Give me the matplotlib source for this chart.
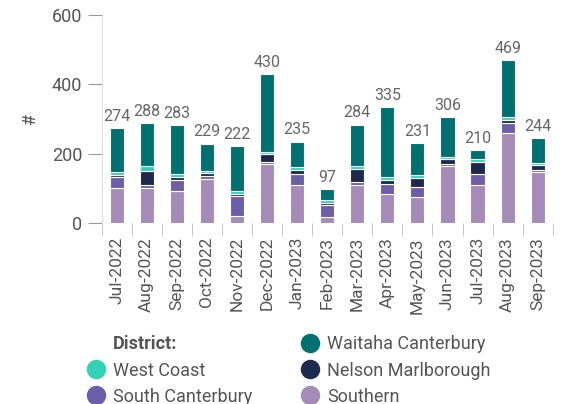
import numpy as np
import matplotlib.pyplot as plt
from matplotlib.lines import Line2D

plt.rcParams['font.family'] = ['Roboto', 'DejaVu Sans']

months = ["Jul-2022", "Aug-2022", "Sep-2022", "Oct-2022", "Nov-2022", "Dec-2022",
          "Jan-2023", "Feb-2023", "Mar-2023", "Apr-2023", "May-2023", "Jun-2023",
          "Jul-2023", "Aug-2023", "Sep-2023"]

# stacked bottom -> top
southern = [100, 101, 93, 128, 19, 170, 110, 17, 111, 85, 74, 164, 111, 260, 146]
south_canterbury = [32, 10, 32, 7, 58, 6, 31, 36, 7, 28, 30, 7, 31, 28, 7]
nelson_marlborough = [6, 40, 9, 8, 8, 22, 12, 6, 39, 12, 27, 13, 35, 10, 13]
west_coast = [10, 12, 8, 8, 7, 8, 9, 8, 8, 7, 7, 7, 9, 8, 6]
waitaha_canterbury = [126, 125, 141, 78, 130, 224, 73, 30, 119, 203, 93, 115, 24, 163, 72]

series = [
    ("Southern", southern, "#a58bb8"),
    ("South Canterbury", south_canterbury, "#6c5ea8"),
    ("Nelson Marlborough", nelson_marlborough, "#1e2a4d"),
    ("West Coast", west_coast, "#33d1b8"),
    ("Waitaha Canterbury", waitaha_canterbury, "#007070"),
]

fig = plt.figure(figsize=(5.71, 4.04), dpi=100)
ax = fig.add_axes([0.178, 0.448, 0.790, 0.515])

x = np.arange(len(months))
bottom = np.zeros(len(months))
for name, vals, col in series:
    ax.bar(x, vals, 0.47, bottom=bottom, color=col, edgecolor="white", linewidth=0.8)
    bottom += np.array(vals)

for xi, tot in zip(x, bottom):
    ax.text(xi, tot + 12, f"{int(tot)}", ha="center", va="bottom", fontsize=11.5, color="#666666")

ax.set_xlim(-0.5, len(months) - 0.5)
ax.set_ylim(0, 600)
ax.set_yticks([0, 200, 400, 600])
ax.tick_params(axis="y", length=10, color="#999999", labelsize=13, labelcolor="#555555", pad=4)
ax.set_xticks(x)
ax.set_xticklabels(months, rotation=90, fontsize=12.5, color="#555555")
ax.tick_params(axis="x", which="major", length=0, pad=10)
ax.set_xticks(np.arange(-0.5, len(months)), minor=True)
ax.tick_params(axis="x", which="minor", length=9, color="#bbbbbb")
for s in ["top", "right", "bottom"]:
    ax.spines[s].set_visible(False)
ax.spines["left"].set_color("#dddddd")
ax.set_ylabel("#", fontsize=13, color="#555555", labelpad=9)

handles = [Line2D([], [], linestyle="none")]
labels = ["District:"]
order = [("West Coast", "#33d1b8"), ("South Canterbury", "#6c5ea8"),
         ("Waitaha Canterbury", "#007070"), ("Nelson Marlborough", "#1e2a4d"),
         ("Southern", "#a58bb8")]
for name, col in order:
    handles.append(Line2D([], [], marker="o", linestyle="none", markersize=13,
                          markerfacecolor=col, markeredgecolor=col))
    labels.append(name)
leg = fig.legend(handles, labels, ncol=2, loc="upper left", bbox_to_anchor=(0.133, 0.192),
                 frameon=False, fontsize=13, labelcolor="#555555", handletextpad=0.35,
                 columnspacing=2.6, labelspacing=0.45, handlelength=1.2, borderpad=0)
leg.get_texts()[0].set_fontweight("bold")

fig.savefig("out.png", dpi=100)
